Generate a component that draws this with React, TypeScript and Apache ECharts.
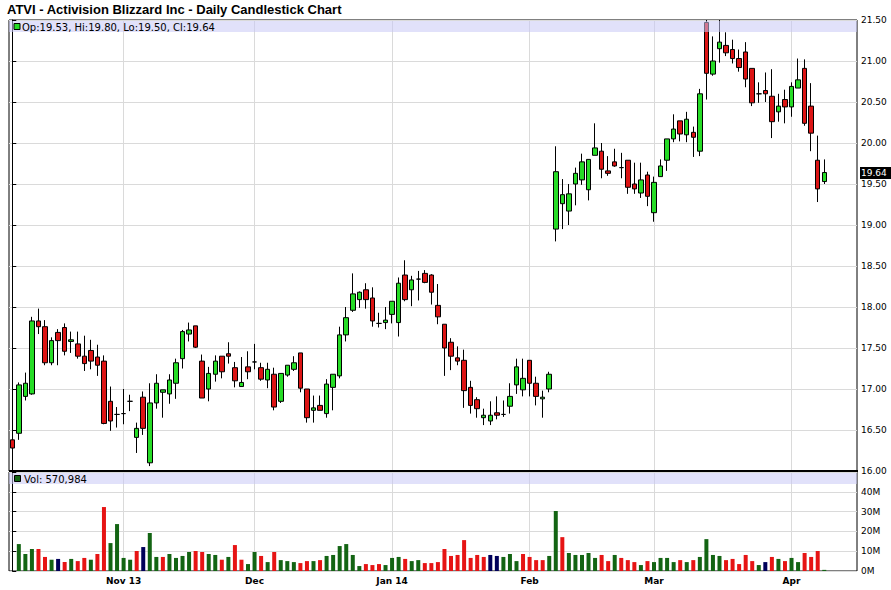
import React, { useEffect, useRef } from 'react';
import * as echarts from 'echarts';

// ---- data ----
const dates = [
  '2013-10-09','2013-10-10','2013-10-11','2013-10-14','2013-10-15','2013-10-16','2013-10-17','2013-10-18','2013-10-21','2013-10-22',
  '2013-10-23','2013-10-24','2013-10-25','2013-10-28','2013-10-29','2013-10-30','2013-10-31','2013-11-01','2013-11-04','2013-11-05',
  '2013-11-06','2013-11-07','2013-11-08','2013-11-11','2013-11-12','2013-11-13','2013-11-14','2013-11-15','2013-11-18','2013-11-19',
  '2013-11-20','2013-11-21','2013-11-22','2013-11-25','2013-11-26','2013-11-27','2013-11-29','2013-12-02','2013-12-03','2013-12-04',
  '2013-12-05','2013-12-06','2013-12-09','2013-12-10','2013-12-11','2013-12-12','2013-12-13','2013-12-16','2013-12-17','2013-12-18',
  '2013-12-19','2013-12-20','2013-12-23','2013-12-24','2013-12-26','2013-12-27','2013-12-30','2013-12-31','2014-01-02','2014-01-03',
  '2014-01-06','2014-01-07','2014-01-08','2014-01-09','2014-01-10','2014-01-13','2014-01-14','2014-01-15','2014-01-16','2014-01-17',
  '2014-01-21','2014-01-22','2014-01-23','2014-01-24','2014-01-27','2014-01-28','2014-01-29','2014-01-30','2014-01-31','2014-02-03',
  '2014-02-04','2014-02-05','2014-02-06','2014-02-07','2014-02-10','2014-02-11','2014-02-12','2014-02-13','2014-02-14','2014-02-18',
  '2014-02-19','2014-02-20','2014-02-21','2014-02-24','2014-02-25','2014-02-26','2014-02-27','2014-02-28','2014-03-03','2014-03-04',
  '2014-03-05','2014-03-06','2014-03-07','2014-03-10','2014-03-11','2014-03-12','2014-03-13','2014-03-14','2014-03-17','2014-03-18',
  '2014-03-19','2014-03-20','2014-03-21','2014-03-24','2014-03-25','2014-03-26','2014-03-27','2014-03-28','2014-03-31','2014-04-01',
  '2014-04-02','2014-04-03','2014-04-04','2014-04-07','2014-04-08',
];

const open = [
  16.38,16.46,16.91,16.94,17.83,17.76,17.32,17.69,17.75,17.58,
  17.55,17.40,17.47,17.39,17.34,16.85,16.69,16.70,16.85,16.41,
  16.90,16.10,16.83,16.96,16.94,17.07,17.37,17.67,17.77,17.34,
  17.00,17.18,17.40,17.43,17.26,17.03,17.27,17.33,17.26,17.11,
  17.18,16.85,17.17,17.24,17.44,17.00,16.74,16.80,16.70,17.02,
  17.16,17.66,17.96,18.09,18.21,18.11,17.80,17.81,17.91,17.81,
  18.39,18.21,18.34,18.41,18.39,18.02,17.79,17.57,17.38,17.35,
  17.02,16.87,16.65,16.61,16.71,16.69,16.79,17.05,16.99,17.35,
  17.07,16.88,17.00,18.95,19.26,19.17,19.50,19.55,19.43,19.85,
  19.90,19.66,19.77,19.70,19.79,19.50,19.39,19.61,19.15,19.59,
  19.79,20.05,20.27,20.10,20.13,19.90,21.47,20.84,21.15,21.19,
  21.14,21.03,21.11,20.91,20.60,20.64,20.57,20.38,20.53,20.44,
  20.67,20.91,20.45,19.79,19.53,
];

const high = [
  16.57,17.08,17.20,17.88,17.98,17.84,17.63,17.73,17.80,17.70,
  17.70,17.65,17.60,17.54,17.41,17.03,16.78,17.00,16.93,16.59,
  16.97,17.07,17.18,16.99,17.18,17.37,17.72,17.81,17.77,17.42,
  17.27,17.41,17.40,17.57,17.33,17.39,17.46,17.55,17.32,17.32,
  17.26,17.19,17.29,17.40,17.44,17.00,16.92,16.92,17.12,17.18,
  17.76,18.00,18.41,18.19,18.29,18.24,17.93,18.00,18.07,18.36,
  18.57,18.38,18.44,18.45,18.40,18.28,17.79,17.62,17.52,17.48,
  17.10,16.90,16.76,16.85,16.91,16.86,17.07,17.37,17.37,17.35,
  17.15,16.98,17.21,19.96,19.56,19.50,19.70,19.87,19.80,20.24,
  20.00,19.84,19.93,19.88,19.79,19.76,19.76,19.65,19.59,19.80,
  20.05,20.35,20.27,20.38,20.20,20.66,21.50,21.30,21.50,21.35,
  21.26,21.14,21.23,20.91,20.74,20.86,20.90,20.60,20.65,20.74,
  21.03,21.02,20.73,20.09,19.80,
];

const low = [
  16.24,16.38,16.86,16.93,17.67,17.29,17.29,17.29,17.41,17.44,
  17.37,17.22,17.24,17.16,16.57,16.49,16.53,16.57,16.73,16.22,
  16.44,16.06,16.76,16.65,16.82,16.88,17.25,17.58,17.50,16.89,
  16.85,17.09,17.13,17.31,17.02,17.03,17.12,17.24,17.10,17.01,
  16.74,16.83,17.15,17.22,16.96,16.59,16.59,16.74,16.65,16.74,
  17.13,17.58,17.94,17.99,17.98,17.76,17.75,17.73,17.80,17.64,
  18.07,18.01,18.08,18.29,18.03,17.79,17.16,17.23,17.29,16.77,
  16.70,16.65,16.56,16.56,16.63,16.66,16.70,16.94,16.91,16.91,
  16.80,16.65,16.96,18.80,18.95,19.00,19.24,19.49,19.30,19.85,
  19.57,19.60,19.71,19.57,19.38,19.38,19.33,19.23,19.04,19.59,
  19.66,20.01,20.02,20.01,19.83,19.84,20.53,20.82,20.98,21.06,
  20.97,20.87,20.68,20.45,20.49,20.50,20.06,20.26,20.24,20.32,
  20.67,20.21,19.90,19.28,19.50,
];

const close = [
  16.28,17.05,17.07,17.83,17.76,17.32,17.59,17.59,17.46,17.60,
  17.40,17.31,17.34,17.29,16.58,16.61,16.69,16.70,16.85,16.52,
  16.52,16.83,17.07,16.99,17.11,17.32,17.70,17.72,17.51,16.89,
  17.19,17.34,17.21,17.40,17.10,17.08,17.21,17.33,17.12,17.24,
  16.78,17.19,17.29,17.32,17.01,16.65,16.77,16.74,17.06,17.18,
  17.66,17.87,18.16,18.18,18.09,17.83,17.80,17.84,18.07,18.29,
  18.09,18.33,18.34,18.30,18.18,17.88,17.50,17.40,17.34,16.98,
  16.80,16.76,16.68,16.68,16.68,16.69,16.91,17.27,17.13,17.07,
  16.91,16.90,17.18,19.65,19.37,19.38,19.63,19.77,19.80,19.94,
  19.68,19.63,19.72,19.70,19.46,19.44,19.55,19.35,19.52,19.72,
  20.05,20.17,20.11,20.29,20.07,20.60,20.85,21.00,21.23,21.10,
  21.03,20.92,20.78,20.49,20.60,20.60,20.26,20.45,20.44,20.69,
  20.77,20.24,20.12,19.44,19.64,
];

// volume in millions of shares
const volume: (number | null)[] = [
  null,13.6,8.6,11.1,11.1,7.1,5.7,6.1,4.5,6.1,
  5.0,6.6,5.7,8.6,32.3,14.1,23.7,6.6,5.7,10.1,
  12.1,19.2,7.1,7.1,8.6,6.6,7.6,9.6,10.1,9.6,
  8.6,8.1,5.7,7.1,13.1,5.7,3.5,9.6,7.6,4.5,
  9.6,5.5,5.0,4.5,4.0,5.0,5.0,5.5,7.6,8.1,
  12.6,13.6,8.1,2.5,3.5,3.0,3.5,3.0,6.6,7.1,
  6.1,5.0,5.5,4.0,4.0,4.5,11.1,7.6,8.1,15.6,
  6.6,8.1,7.1,8.1,7.6,7.1,8.6,5.0,8.6,7.1,
  5.5,5.5,7.6,30.3,17.1,9.1,8.1,8.1,9.1,6.6,
  8.1,5.0,8.1,6.6,5.5,4.5,3.0,5.0,4.5,6.6,
  6.6,4.5,5.5,4.5,5.5,7.1,16.1,8.1,7.6,5.5,
  6.1,3.5,8.1,5.0,3.0,4.5,7.1,6.1,5.0,6.6,
  4.5,9.1,7.1,10.1,0.570984,
];

const monthTickLabels = ['Nov 13', 'Dec', 'Jan 14', 'Feb', 'Mar', 'Apr'];
const title = 'ATVI - Activision Blizzard Inc - Daily Candlestick Chart';

// ---- styles ----
const UP = '#26dc26';
const DOWN = '#dc1414';
const VOL_UP = '#136413';
const VOL_DOWN = '#e61414';
const VOL_FLAT = '#00005a';
const GRID = '#dadada';
const AXIS_FONT = '"DejaVu Sans", Verdana, sans-serif';
const TITLE_FONT = '"Liberation Sans", Arial, sans-serif';

export default function App() {
  const ref = useRef<HTMLDivElement>(null);

  useEffect(() => {
    const chart = echarts.init(ref.current!, null, { renderer: 'svg' });
    const n = close.length;
    const xMax = n + 4;

    const monthStarts = dates
      .map((d, i) => (i > 0 && d.slice(0, 7) !== dates[i - 1].slice(0, 7) ? i : -1))
      .filter((i) => i >= 0);
    const labelMap: Record<number, string> = {};
    monthStarts.forEach((idx, k) => (labelMap[idx] = monthTickLabels[k] ?? ''));

    const candleData = close.map((c, i) => [i, open[i], c, low[i], high[i]]);
    const volData = volume
      .map((v, i) => {
        if (v == null) return null;
        const prev = i > 0 ? close[i - 1] : null;
        const color = prev == null || close[i] > prev ? VOL_UP : close[i] < prev ? VOL_DOWN : VOL_FLAT;
        return { value: [i, v], itemStyle: { color } };
      })
      .filter((d) => d != null);

    const vLines = {
      silent: true,
      symbol: ['none', 'none'],
      z: 1,
      label: { show: false },
      lineStyle: { color: GRID, width: 1, type: 'solid' },
      emphasis: { disabled: true },
      animation: false,
      data: monthStarts.map((i) => ({ xAxis: i })),
    };

    const axisLabelBase = { fontFamily: AXIS_FONT, fontSize: 9, color: '#000' };

    chart.setOption({
      animation: false,
      backgroundColor: '#fff',
      grid: [
        { left: 9, top: 20, width: 848, height: 451, show: true, borderColor: '#000', borderWidth: 1, containLabel: false, outerBoundsMode: 'none' },
        { left: 9, top: 472, width: 848, height: 99, show: true, borderColor: '#000', borderWidth: 1, containLabel: false, outerBoundsMode: 'none' },
      ],
      xAxis: [
        { type: 'value', gridIndex: 0, min: -0.5, max: xMax, axisLine: { show: false }, axisTick: { show: false }, axisLabel: { show: false }, splitLine: { show: false } },
        {
          type: 'value', gridIndex: 1, min: -0.5, max: xMax,
          axisLine: { show: false }, axisTick: { show: false }, splitLine: { show: false },
          axisLabel: {
            ...axisLabelBase, fontWeight: 'bold', margin: 5,
            customValues: monthStarts,
            formatter: (v: number) => labelMap[Math.round(v)] ?? '',
          },
        },
      ],
      yAxis: [
        {
          type: 'value', gridIndex: 0, position: 'right', min: 16, max: 21.5, interval: 0.5,
          axisLine: { show: true, lineStyle: { color: '#000' } },
          axisTick: { show: true, length: 4, lineStyle: { color: '#000' } },
          axisLabel: { ...axisLabelBase, margin: 4, formatter: (v: number) => v.toFixed(2) },
          splitLine: { show: true, lineStyle: { color: GRID } },
        },
        {
          type: 'value', gridIndex: 1, position: 'right', min: 0, max: 50, interval: 10,
          axisLine: { show: true, lineStyle: { color: '#000' } },
          axisTick: { show: true, length: 4, lineStyle: { color: '#000' } },
          axisLabel: { ...axisLabelBase, margin: 4, formatter: (v: number) => (v <= 40 ? `${v}M` : '') },
          splitLine: { show: true, lineStyle: { color: GRID } },
        },
      ],
      series: [
        {
          type: 'candlestick', xAxisIndex: 0, yAxisIndex: 0, data: candleData, barWidth: 5,
          itemStyle: { color: UP, color0: DOWN, borderColor: '#000', borderColor0: '#000', borderColorDoji: '#000', borderWidth: 1 },
          markLine: vLines,
        },
        {
          type: 'bar', xAxisIndex: 1, yAxisIndex: 1, data: volData, barWidth: 4,
          markLine: vLines,
        },
      ],
    });

    const last = n - 1;
    const py = chart.convertToPixel({ yAxisIndex: 0 }, close[last]) as number;
    const ohlcText = `Op:${open[last].toFixed(2)}, Hi:${high[last].toFixed(2)}, Lo:${low[last].toFixed(2)}, Cl:${close[last].toFixed(2)}`;
    const volText = `Vol: ${Math.round((volume[last] as number) * 1e6).toLocaleString('en-US')}`;

    chart.setOption({
      graphic: [
        { type: 'text', x: 7, y: 9, z: 20, style: { text: title, fill: '#000', font: `bold 13px ${TITLE_FONT}`, verticalAlign: 'middle' } },
        { type: 'rect', shape: { x: 9, y: 21, width: 848, height: 11 }, z: 10, silent: true, style: { fill: 'rgba(200,200,245,0.55)' } },
        { type: 'rect', shape: { x: 9, y: 473, width: 848, height: 11 }, z: 10, silent: true, style: { fill: 'rgba(200,200,245,0.55)' } },
        { type: 'rect', shape: { x: 14, y: 23.5, width: 6, height: 6 }, z: 11, style: { fill: UP, stroke: '#000', lineWidth: 1 } },
        { type: 'text', x: 22, y: 27, z: 11, style: { text: ohlcText, fill: '#000', font: `10px ${AXIS_FONT}`, verticalAlign: 'middle' } },
        { type: 'rect', shape: { x: 14.5, y: 475.5, width: 6, height: 6 }, z: 11, style: { fill: VOL_UP, stroke: '#000', lineWidth: 1 } },
        { type: 'text', x: 24, y: 479, z: 11, style: { text: volText, fill: '#000', font: `10px ${AXIS_FONT}`, verticalAlign: 'middle' } },
        { type: 'rect', shape: { x: 9, y: 470, width: 849, height: 2 }, z: 12, style: { fill: '#000' } },
        { type: 'rect', shape: { x: 860, y: Math.round(py) - 6, width: 31, height: 12 }, z: 12, style: { fill: '#000' } },
        { type: 'text', x: 861, y: Math.round(py), z: 13, style: { text: close[last].toFixed(2), fill: '#fff', font: `9px ${AXIS_FONT}`, verticalAlign: 'middle' } },
      ],
    });

    return () => chart.dispose();
  }, []);

  return <div ref={ref} style={{ position: 'fixed', left: 0, top: 0, width: 891, height: 590 }} />;
}
